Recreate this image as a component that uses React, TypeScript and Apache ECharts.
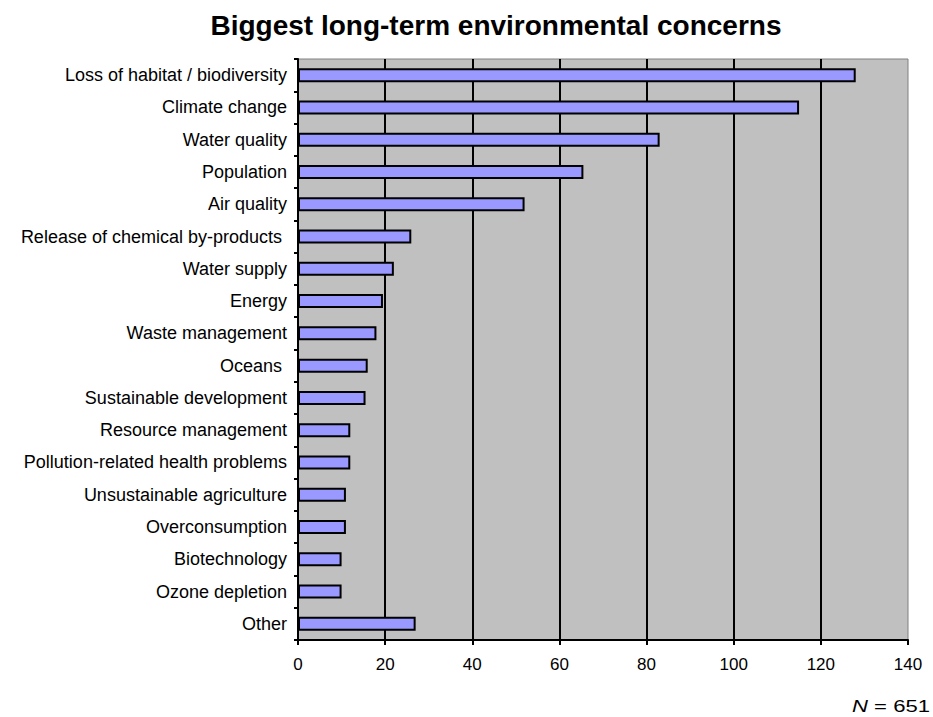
import React, { useEffect, useRef } from "react";
import * as echarts from "echarts";

const categories = [
  "Loss of habitat / biodiversity",
  "Climate change",
  "Water quality",
  "Population",
  "Air quality",
  "Release of chemical by-products ",
  "Water supply",
  "Energy",
  "Waste management",
  "Oceans ",
  "Sustainable development",
  "Resource management",
  "Pollution-related health problems",
  "Unsustainable agriculture",
  "Overconsumption",
  "Biotechnology",
  "Ozone depletion",
  "Other",
];
const values = [128, 115, 83, 65.5, 52, 26, 22, 19.5, 18, 16, 15.5, 12, 12, 11, 11, 10, 10, 27];
const titleText = "Biggest long-term environmental concerns";
const nValue = 651;

export default function App() {
  const ref = useRef<HTMLDivElement>(null);
  useEffect(() => {
    if (!ref.current) return;
    const chart = echarts.init(ref.current, null, { renderer: "svg" });
    const font = "Liberation Sans, Arial";
    chart.setOption({
      animation: false,
      backgroundColor: "#ffffff",
      title: {
        text: titleText,
        left: 491,
        textAlign: "center",
        top: 6,
        textStyle: { fontFamily: font, fontWeight: "bold", fontSize: 28, color: "#000" },
      },
      grid: {
        left: 298,
        right: 25,
        top: 59,
        bottom: 77,
        show: true,
        backgroundColor: "#C0C0C0",
        borderColor: "#808080",
        borderWidth: 1,
      },
      xAxis: {
        type: "value",
        min: 0,
        max: 140,
        interval: 20,
        axisLine: { show: true, lineStyle: { color: "#000", width: 2 } },
        axisTick: { show: true, length: 5, lineStyle: { color: "#000", width: 2 } },
        axisLabel: { color: "#000", fontSize: 17, fontFamily: font, margin: 16 },
        splitLine: { show: true, showMinLine: false, showMaxLine: false, lineStyle: { color: "#000", width: 2 } },
      },
      yAxis: {
        type: "category",
        data: categories,
        inverse: true,
        axisLine: { show: true, lineStyle: { color: "#000", width: 2 } },
        axisTick: { show: true, length: 4, lineStyle: { color: "#000", width: 2 } },
        axisLabel: { color: "#000", fontSize: 18, fontFamily: font, margin: 11 },
        splitLine: { show: false },
      },
      series: [
        {
          type: "bar",
          data: values,
          barWidth: 14,
          itemStyle: { color: "#9999FF", borderColor: "#000", borderWidth: 2 },
        },
      ],
      graphic: [
        {
          type: "text",
          x: 930,
          y: 706,
          scaleX: 1.3,
          style: {
            text: "{i|N} = " + nValue,
            fontSize: 17,
            fontFamily: font,
            fill: "#000",
            align: "right",
            verticalAlign: "middle",
            rich: { i: { fontStyle: "italic", fontSize: 17, fontFamily: font } },
          },
        },
      ],
    });
    return () => chart.dispose();
  }, []);
  return <div ref={ref} style={{ width: 933, height: 717, position: "absolute", left: 0, top: 0 }} />;
}
